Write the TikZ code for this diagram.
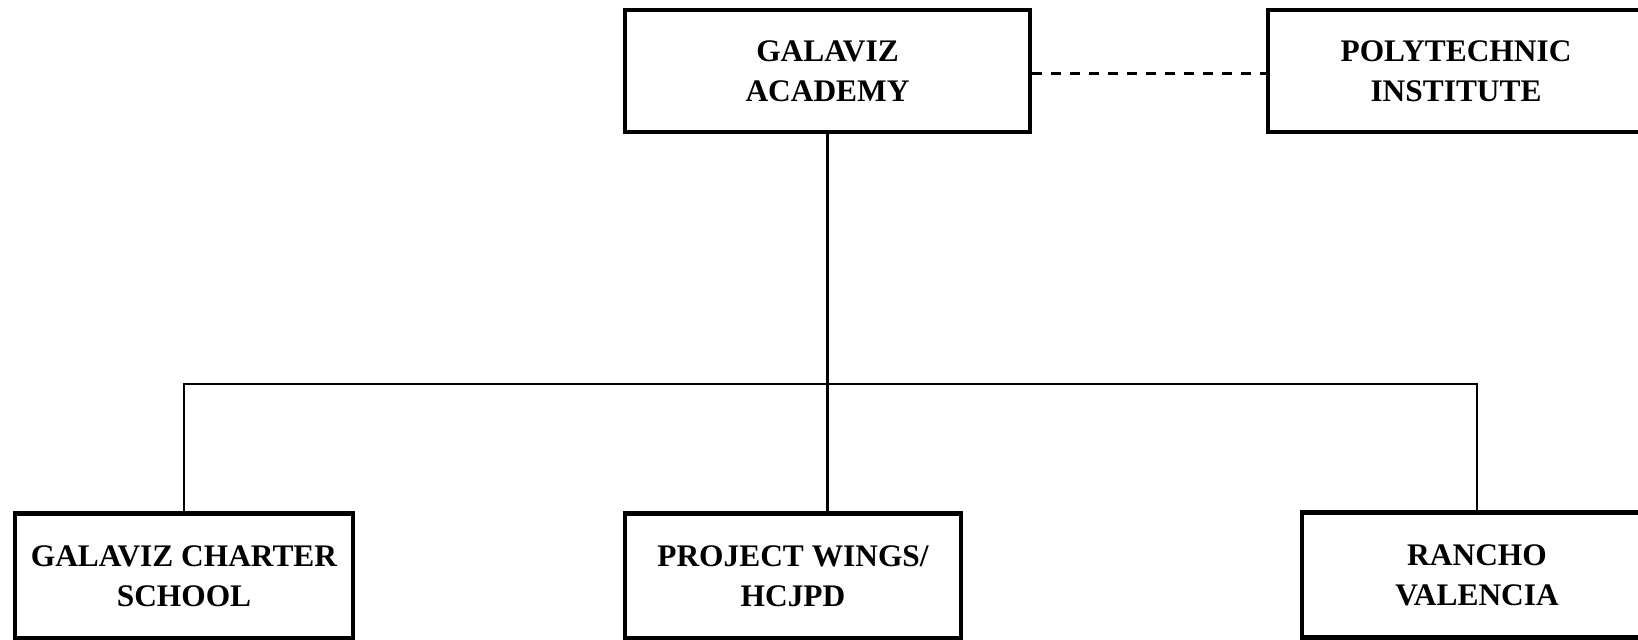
\documentclass[tikz,border=0pt]{standalone}
\usepackage{fontspec}
\setmainfont{Liberation Serif}
\usepackage{tikz}
\usetikzlibrary{positioning}

\begin{document}
\begin{tikzpicture}[
		x=0.5pt, y=-0.5pt
		,every node/.append style={rectangle, draw, line width=2.2pt, align=center, inner sep=0pt, font=\bfseries\fontsize{15.7}{20}\selectfont}
		,top/.style={minimum height=61pt}
		,low/.style={minimum height=62.5pt}
		,link/.style={line width=1.2pt}
		,dotted link/.style={line width=1.5pt, dash pattern=on 5pt off 4.5pt}
	]
		\useasboundingbox (0,0) rectangle (1638,639);
		\clip (0,0) rectangle (1638,639);
		\node [top, minimum width=202.5pt] (ga) at (827.5,71) {GALAVIZ\\ACADEMY};
		\node [top, minimum width=188pt] (pi) at (1456,71) {POLYTECHNIC\\INSTITUTE};
		\node [low, minimum width=169pt] (gcs) at (184,576) {GALAVIZ CHARTER\\SCHOOL};
		\node [low, minimum width=168pt] (pw) at (793,576) {PROJECT WINGS/\\HCJPD};
		\node [low, minimum width=175pt] (rv) at (1477,575) {RANCHO\\VALENCIA};
		\coordinate (bus) at (827.5,384);
		\draw [dotted link] ([yshift=-1pt]ga.east) -- ([yshift=-1pt]pi.west);
		\draw [link] (ga.south) -- (ga.south |- pw.north);
		\draw [link] (gcs.north) |- (bus) -| (rv.north);
	\end{tikzpicture}
\end{document}
